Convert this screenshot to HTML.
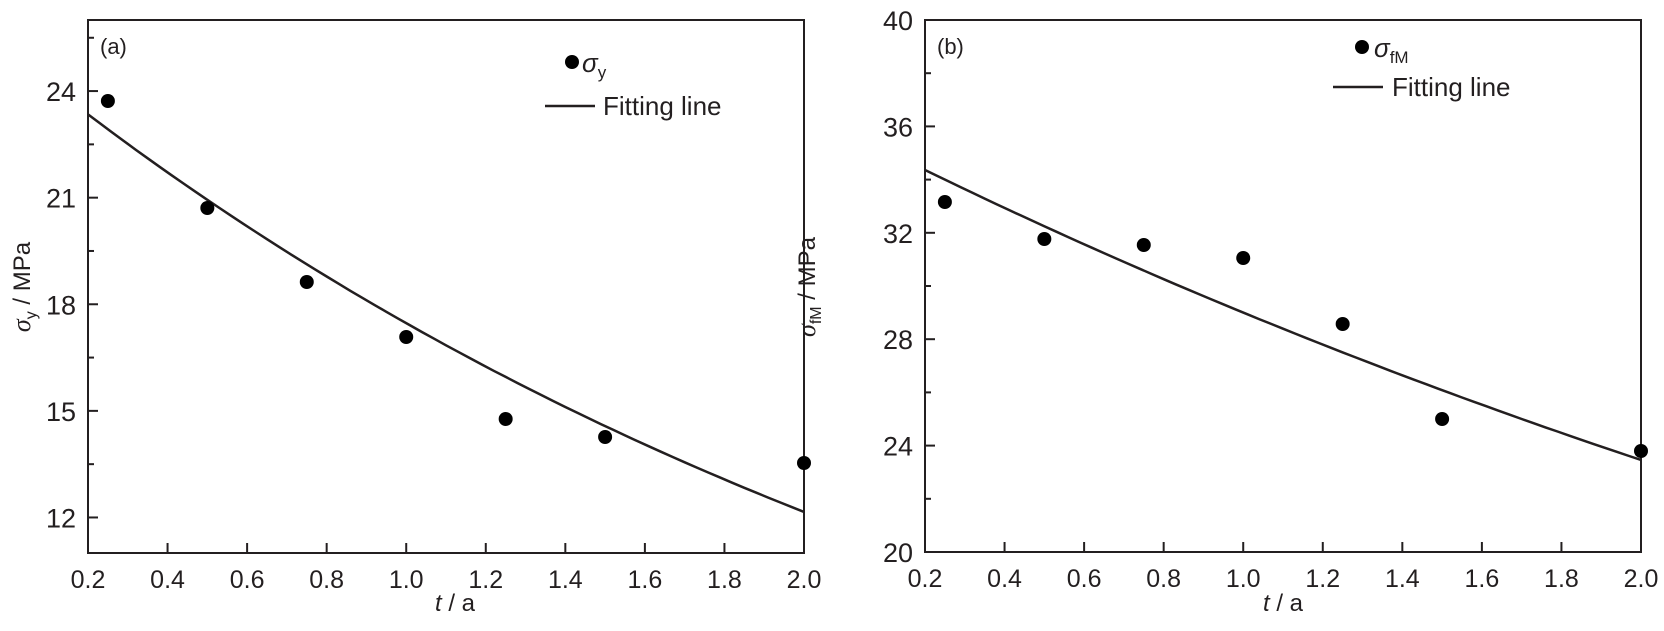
<!DOCTYPE html>
<html><head><style>
html,body{margin:0;padding:0;background:#fff;}
svg text{font-family:"Liberation Sans",sans-serif;fill:#231f20;}
</style></head><body>
<svg id="s" width="1664" height="626" xmlns="http://www.w3.org/2000/svg"></svg>
<script>
const s=document.getElementById('s');let h='';
function panel(L,T,R,B,ymin,ymax,ymaj,ystep,a,b,pts,lab,legend){
  const X=t=>L+(t-0.2)/1.8*(R-L), Y=v=>B-(v-ymin)/(ymax-ymin)*(B-T);
  h+=`<rect x="${L}" y="${T}" width="${R-L}" height="${B-T}" fill="none" stroke="#231f20" stroke-width="2"/>`;
  for(let i=0;i<=9;i++){const t=0.2+i*0.2,x=X(t);
    h+=`<line x1="${x}" y1="${B}" x2="${x}" y2="${B-10}" stroke="#231f20" stroke-width="2"/>`;
    h+=`<text x="${x}" y="${B+35}" font-size="25" text-anchor="middle">${t.toFixed(1)}</text>`;}
  for(let k=0;;k++){const v=ymaj[0]+k*ystep;if(v>ymax+1e-6)break;const y=Y(v);const maj=k%2==0;
    h+=`<line x1="${L}" y1="${y}" x2="${L+(maj?10:6)}" y2="${y}" stroke="#231f20" stroke-width="2"/>`;
    if(maj)h+=`<text x="${L-12}" y="${y+10}" font-size="27" text-anchor="end">${v}</text>`;}
  let d='';for(let i=0;i<=60;i++){const t=0.2+i*0.03;d+=(i?'L':'M')+X(t).toFixed(1)+','+Y(a*Math.exp(-b*t)).toFixed(1);}
  h+=`<path d="${d}" fill="none" stroke="#231f20" stroke-width="2.5"/>`;
  pts.forEach(p=>h+=`<circle cx="${X(p[0])}" cy="${p[1]}" r="7" fill="#000"/>`);
  h+=`<text x="${L+12}" y="${T+34}" font-size="22">${lab}</text>`;
  h+=legend;
}
panel(88,20,804,553,11,26,[12,3],1.5,25.1,0.3625,
 [[0.25,101],[0.5,208],[0.75,282],[1.0,337],[1.25,419],[1.5,437],[2.0,463]],'(a)',
 `<circle cx="572" cy="62" r="7" fill="#000"/><text x="582" y="72" font-size="26" font-family="Liberation Serif" font-style="italic">σ<tspan font-size="17" font-style="normal" dy="6">y</tspan></text>
 <line x1="545" y1="106" x2="595" y2="106" stroke="#231f20" stroke-width="2.5"/><text x="603" y="115" font-size="26">Fitting line</text>
 <text transform="translate(30,287) rotate(-90)" font-size="24" text-anchor="middle"><tspan font-family="Liberation Serif" font-style="italic" font-size="26">σ</tspan><tspan font-size="16" dy="6">y</tspan><tspan dy="-6"> / MPa</tspan></text>
 <text x="455" y="611" font-size="24" text-anchor="middle"><tspan font-style="italic">t</tspan> / a</text>`);
panel(925,20,1641,552,20,40,[20,2],2,35.85,0.212,
 [[0.25,202],[0.5,239],[0.75,245],[1.0,258],[1.25,324],[1.5,419],[2.0,451]],'(b)',
 `<circle cx="1362" cy="47" r="7" fill="#000"/><text x="1374" y="57" font-size="26" font-family="Liberation Serif" font-style="italic">σ<tspan font-size="17" font-style="normal" dy="6">fM</tspan></text>
 <line x1="1333" y1="87" x2="1383" y2="87" stroke="#231f20" stroke-width="2.5"/><text x="1392" y="96" font-size="26">Fitting line</text>
 <text transform="translate(815,287) rotate(-90)" font-size="24" text-anchor="middle"><tspan font-family="Liberation Serif" font-style="italic" font-size="26">σ</tspan><tspan font-size="16" dy="6">fM</tspan><tspan dy="-6"> / MPa</tspan></text>
 <text x="1283" y="611" font-size="24" text-anchor="middle"><tspan font-style="italic">t</tspan> / a</text>`);
s.innerHTML=h;
</script>
</body></html>
